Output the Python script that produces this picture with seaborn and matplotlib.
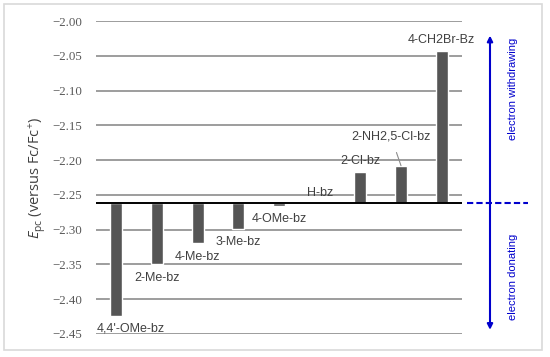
import matplotlib
matplotlib.use("Agg")
import matplotlib.pyplot as plt
import matplotlib.transforms as mtransforms
from matplotlib.patches import Rectangle
import seaborn as sns
import pandas as pd

# data
substituents = ["4,4'-OMe-bz", "2-Me-bz", "4-Me-bz", "3-Me-bz", "4-OMe-bz",
                "H-bz", "2-Cl-bz", "2-NH2,5-Cl-bz", "4-CH2Br-Bz"]
epc = [-2.424, -2.349, -2.319, -2.299, -2.266, -2.262, -2.217, -2.208, -2.043]
reference_epc = -2.262  # H-bz level, bars start here

# label offsets in pixels from the bar end
label_dx = [14, 0, 0, 0, 0, 0, 0, -10, 0]
label_dy = [-13, -14, -14, -13, -13, 10, 11, 29, 11]

df = pd.DataFrame({"sub": substituents, "epc": epc})
df["delta"] = df["epc"] - reference_epc

sns.set_style("white")
plt.rcParams["font.family"] = ["Liberation Sans", "DejaVu Sans"]
plt.rcParams["mathtext.fontset"] = "custom"
plt.rcParams["mathtext.rm"] = "Open Sans"
plt.rcParams["mathtext.it"] = "Open Sans:italic"

fig = plt.figure(figsize=(5.5, 3.57), dpi=100)
ax = fig.add_axes([96 / 550, 1 - 334 / 357, 366 / 550, 313 / 357])

sns.barplot(data=df, x="sub", y="delta", bottom=reference_epc, color="#555555",
            width=0.3, saturation=1, ax=ax, zorder=3)

ax.set_ylim(-2.45, -2.00)
ax.set_xlim(-0.5, len(substituents) - 0.5)
ticks = [-2.00, -2.05, -2.10, -2.15, -2.20, -2.25, -2.30, -2.35, -2.40, -2.45]
ax.set_yticks(ticks)
ax.set_yticklabels([f"\u2212{abs(t):.2f}" for t in ticks])
for lbl in ax.get_yticklabels():
    lbl.set_fontfamily(["Liberation Serif", "DejaVu Serif"])
    lbl.set_fontsize(9.3)
    lbl.set_color("#595959")
ax.tick_params(axis="y", length=0, pad=10)
ax.set_xticks([])
ax.set_xlabel("")
for s in ax.spines.values():
    s.set_visible(False)
for t in ticks:
    ax.axhline(t, color="#8c8c8c", lw=1.2, zorder=1)
ax.axhline(reference_epc, color="black", lw=1.4, zorder=4)

ax.set_ylabel(r"$E_{\mathrm{pc}}$ (versus Fc/Fc$^{+}$)", family="Open Sans",
              fontsize=10.5, color="#404040", labelpad=3)

for i, (name, v) in enumerate(zip(substituents, epc)):
    props = None
    if name == "2-NH2,5-Cl-bz":
        props = dict(arrowstyle="-", color="#8c8c8c", lw=0.8, shrinkA=5, shrinkB=0)
    ax.annotate(name, xy=(i, v), xytext=(label_dx[i], label_dy[i]),
                textcoords="offset pixels", ha="center", va="center",
                fontsize=9, color="#404040", arrowprops=props, zorder=5)

# electron donating / withdrawing marks outside the axes
trans = mtransforms.blended_transform_factory(ax.transAxes, ax.transData)
ax.annotate("", xy=(1.0765, -2.021), xytext=(1.0765, -2.444), xycoords=trans,
            textcoords=trans,
            arrowprops=dict(arrowstyle="<|-|>", color="#0000cc", lw=1.5,
                            mutation_scale=8, shrinkA=0, shrinkB=0),
            annotation_clip=False)
ax.plot([1.0137, 1.18], [reference_epc, reference_epc], transform=trans,
        color="#0000cc", lw=1.5, ls=(0, (3, 1.5)), clip_on=False)
ax.text(1.139, -2.098, "electron withdrawing", transform=trans, rotation=90,
        ha="center", va="center", fontsize=8, color="#0000cc")
ax.text(1.139, -2.368, "electron donating", transform=trans, rotation=90,
        ha="center", va="center", fontsize=8, color="#0000cc")

fig.patches.append(Rectangle((4 / 550, 1 - 350 / 357), 538 / 550, 346 / 357,
                             transform=fig.transFigure, fill=False,
                             edgecolor="#d9d9d9", lw=1.2))

fig.savefig("out.png", dpi=100)
